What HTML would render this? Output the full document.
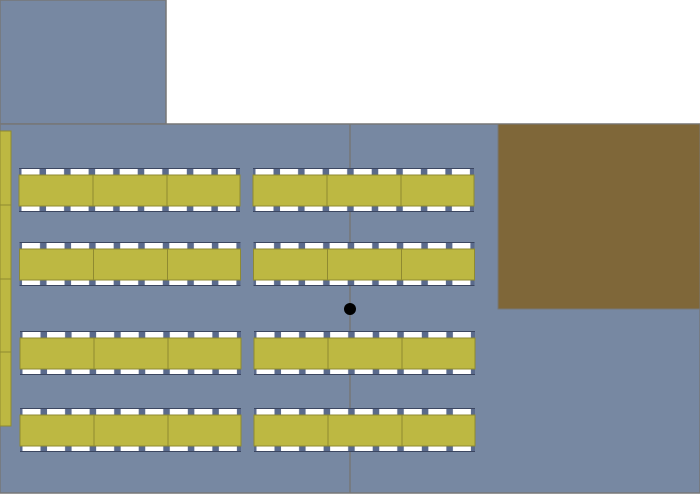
<!DOCTYPE html>
<html><head><meta charset="utf-8"><style>html,body{margin:0;padding:0;background:#fff}svg{display:block}</style></head>
<body>
<svg width="700" height="495" viewBox="0 0 700 495" xmlns="http://www.w3.org/2000/svg">
<defs>
<pattern id="ch" patternUnits="userSpaceOnUse" x="19" y="0" width="24.55" height="495">
<rect x="0" y="0" width="24.55" height="495" fill="#5a6a8c"/>
<rect x="2.5" y="0" width="18" height="495" fill="#fff"/>
</pattern>
<pattern id="ch2" patternUnits="userSpaceOnUse" x="253" y="0" width="24.55" height="495">
<rect x="0" y="0" width="24.55" height="495" fill="#5a6a8c"/>
<rect x="2.5" y="0" width="18" height="495" fill="#fff"/>
</pattern>
</defs>
<rect x="0" y="0" width="700" height="495" fill="#fff"/>
<rect x="0" y="0" width="166" height="124" fill="#7788a2" stroke="#777" stroke-width="1.5"/>
<rect x="0" y="124" width="700" height="369" fill="#7788a2" stroke="#777" stroke-width="1.5"/>
<line x1="350" y1="124" x2="350" y2="493" stroke="#777" stroke-width="1.5"/>
<rect x="498" y="124" width="202" height="185" fill="#7f6739" stroke="#777" stroke-width="1"/>
<g fill="#bdb842" stroke="#8f8a30" stroke-width="1">
<rect x="0" y="131" width="11" height="74"/><rect x="0" y="205" width="11" height="74"/>
<rect x="0" y="279" width="11" height="73"/><rect x="0" y="352" width="11" height="74"/>
</g>
<g>
<rect x="19" y="168" width="221" height="7" fill="url(#ch)"/><line x1="19" y1="168.5" x2="240" y2="168.5" stroke="#3b4660"/>
<rect x="19" y="206" width="221" height="6" fill="url(#ch)"/><line x1="19" y1="211.5" x2="240" y2="211.5" stroke="#3b4660"/>
<rect x="253" y="168" width="221" height="7" fill="url(#ch2)"/><line x1="253" y1="168.5" x2="474" y2="168.5" stroke="#3b4660"/>
<rect x="253" y="206" width="221" height="6" fill="url(#ch2)"/><line x1="253" y1="211.5" x2="474" y2="211.5" stroke="#3b4660"/>
<g fill="#bdb842" stroke="#8f8a30"><rect x="19" y="175" width="74" height="31"/><rect x="93" y="175" width="74" height="31"/><rect x="167" y="175" width="73" height="31"/>
<rect x="253" y="175" width="74" height="31"/><rect x="327" y="175" width="74" height="31"/><rect x="401" y="175" width="73" height="31"/></g>
</g>
<g transform="translate(0.5,74)">
<rect x="19" y="168" width="221" height="7" fill="url(#ch)"/><line x1="19" y1="168.5" x2="240" y2="168.5" stroke="#3b4660"/>
<rect x="19" y="206" width="221" height="6" fill="url(#ch)"/><line x1="19" y1="211.5" x2="240" y2="211.5" stroke="#3b4660"/>
<rect x="253" y="168" width="221" height="7" fill="url(#ch2)"/><line x1="253" y1="168.5" x2="474" y2="168.5" stroke="#3b4660"/>
<rect x="253" y="206" width="221" height="6" fill="url(#ch2)"/><line x1="253" y1="211.5" x2="474" y2="211.5" stroke="#3b4660"/>
<g fill="#bdb842" stroke="#8f8a30"><rect x="19" y="175" width="74" height="31"/><rect x="93" y="175" width="74" height="31"/><rect x="167" y="175" width="73" height="31"/>
<rect x="253" y="175" width="74" height="31"/><rect x="327" y="175" width="74" height="31"/><rect x="401" y="175" width="73" height="31"/></g>
</g>
<g transform="translate(1,163)">
<rect x="19" y="168" width="221" height="7" fill="url(#ch)"/><line x1="19" y1="168.5" x2="240" y2="168.5" stroke="#3b4660"/>
<rect x="19" y="206" width="221" height="6" fill="url(#ch)"/><line x1="19" y1="211.5" x2="240" y2="211.5" stroke="#3b4660"/>
<rect x="253" y="168" width="221" height="7" fill="url(#ch2)"/><line x1="253" y1="168.5" x2="474" y2="168.5" stroke="#3b4660"/>
<rect x="253" y="206" width="221" height="6" fill="url(#ch2)"/><line x1="253" y1="211.5" x2="474" y2="211.5" stroke="#3b4660"/>
<g fill="#bdb842" stroke="#8f8a30"><rect x="19" y="175" width="74" height="31"/><rect x="93" y="175" width="74" height="31"/><rect x="167" y="175" width="73" height="31"/>
<rect x="253" y="175" width="74" height="31"/><rect x="327" y="175" width="74" height="31"/><rect x="401" y="175" width="73" height="31"/></g>
</g>
<g transform="translate(1,240)">
<rect x="19" y="168" width="221" height="7" fill="url(#ch)"/><line x1="19" y1="168.5" x2="240" y2="168.5" stroke="#3b4660"/>
<rect x="19" y="206" width="221" height="6" fill="url(#ch)"/><line x1="19" y1="211.5" x2="240" y2="211.5" stroke="#3b4660"/>
<rect x="253" y="168" width="221" height="7" fill="url(#ch2)"/><line x1="253" y1="168.5" x2="474" y2="168.5" stroke="#3b4660"/>
<rect x="253" y="206" width="221" height="6" fill="url(#ch2)"/><line x1="253" y1="211.5" x2="474" y2="211.5" stroke="#3b4660"/>
<g fill="#bdb842" stroke="#8f8a30"><rect x="19" y="175" width="74" height="31"/><rect x="93" y="175" width="74" height="31"/><rect x="167" y="175" width="73" height="31"/>
<rect x="253" y="175" width="74" height="31"/><rect x="327" y="175" width="74" height="31"/><rect x="401" y="175" width="73" height="31"/></g>
</g>
<circle cx="350" cy="309" r="6" fill="#000"/>
</svg>
</body></html>
